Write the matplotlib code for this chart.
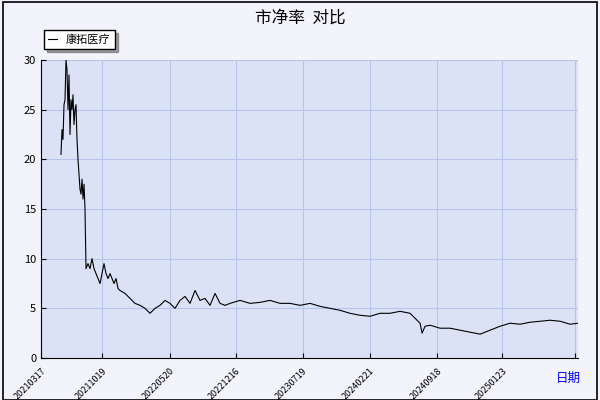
import matplotlib
matplotlib.use("Agg")
import matplotlib.pyplot as plt
from matplotlib.patches import Rectangle

plt.rcParams['font.family'] = ['Noto Sans CJK SC', 'DejaVu Sans']

tick_labels = ["20210317", "20211019", "20220520", "20221216", "20230719",
               "20240221", "20240918", "20250123", ""]
tick_pos = [0, 137, 288, 436, 586, 736, 886, 1033, 1195]
# pixel-read positions (trading day index) and P/B values
xpix = [61,62,63,64,65,66,67,68,69,70,71,72,73,74,75,76,77,78,79,80,81,82,83,84,85,86,88,90,92,94,96,98,100,102,104,106,108,110,112,114,116,118,120,125,130,135,140,145,150,155,160,165,170,175,180,185,190,195,200,205,210,215,220,225,230,240,250,260,270,280,290,300,310,320,330,340,350,360,370,380,390,400,410,420,422,425,430,440,450,460,470,480,490,500,510,520,530,540,550,560,570,578]
pb = [20.5,23,22,25.5,26,30,29,25,28.5,22.5,26,25,26.5,23.5,25,25.5,22,20,18.5,17,16.5,18,16,17.5,15,9,9.5,9,10,9,8.5,8,7.5,8.5,9.5,8.5,8,8.5,8,7.5,8,7,6.8,6.5,6,5.5,5.3,5,4.5,5,5.3,5.8,5.5,5,5.8,6.2,5.5,6.8,5.8,6,5.3,6.5,5.5,5.3,5.5,5.8,5.5,5.6,5.8,5.5,5.5,5.3,5.5,5.2,5,4.8,4.5,4.3,4.2,4.5,4.5,4.7,4.5,3.5,2.5,3.2,3.3,3.0,3.0,2.8,2.6,2.4,2.8,3.2,3.5,3.4,3.6,3.7,3.8,3.7,3.4,3.5]
days = [(p - 41) * 150 / 67 for p in xpix]

fig = plt.figure(figsize=(6, 4), dpi=100, facecolor='#F2F3FB')
fig.add_artist(Rectangle((0.005, 0.0), 0.99, 0.995, transform=fig.transFigure,
                         fill=False, edgecolor='black', lw=1.2))
ax = fig.add_axes([41/600, 42/400, 537/600, 298/400])
ax.set_facecolor('#DCE2F6')
ax.plot(days, pb, color='black', lw=0.8, label='康拓医疗')
ax.set_xlim(0, 1202)
ax.set_ylim(0, 30)
ax.set_yticks([0, 5, 10, 15, 20, 25, 30])
ax.set_xticks(tick_pos)
ax.set_xticklabels(tick_labels, rotation=45, ha='right', fontsize=6.5,
                   rotation_mode='anchor')
ax.tick_params(axis='y', labelsize=8, direction='in')
ax.tick_params(axis='x', direction='in', pad=6)
ax.grid(True, color='#B7C6E8', lw=0.8)
for s in ['top', 'right']:
    ax.spines[s].set_visible(False)
fig.text(0.5, 0.955, '市净率  对比', fontsize=12, ha='center', va='center')
leg = ax.legend(loc='upper left', bbox_to_anchor=(-0.005, 1.12), fontsize=8,
                fancybox=False, edgecolor='black', framealpha=1, shadow=True,
                handlelength=0.8)
fig.text(0.948, 0.045, '日期', color='blue', fontsize=9, ha='center')
fig.savefig('out.png')
